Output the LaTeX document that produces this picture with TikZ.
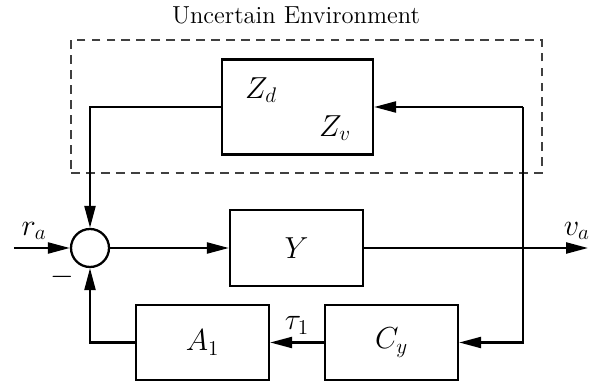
\documentclass[tikz,border=0pt]{standalone}
\usepackage{amsmath,amssymb}
\usepackage{tikz}
\usetikzlibrary{arrows.meta,positioning,calc}

\begin{document}
\begin{tikzpicture}[
  blk/.style={draw, rectangle, line width=1.3pt,
    minimum width=2.66cm, minimum height=1.52cm,
    text centered, font=\fontsize{18}{21}\selectfont},
  sumnode/.style={draw, circle, line width=1.3pt, minimum size=0.76cm, inner sep=0pt},
  lbl/.style={font=\fontsize{18}{21}\selectfont, inner sep=1pt},
  arr/.style={-{Triangle[length=4.4mm,width=2.2mm]}, line width=1.3pt}]
  \useasboundingbox (-1.8,-2.70) rectangle (10.22,4.96);
  % Uncertain environment
  \node[draw, dashed, dash pattern=on 5pt off 3.5pt, black!75, line width=0.6pt,
    minimum width=9.42cm, minimum height=2.66cm] (env) at (4.33,2.83) {};
  \node[font=\fontsize{14}{17}\selectfont] (envlbl) at (4.12,4.66) {Uncertain Environment};
  \node[blk, minimum width=3.02cm, minimum height=1.9cm] (zd) at (4.15,2.82) {};
  \node[lbl] (zdl) at (3.42,3.16) {$Z_d$};
  \node[lbl] (zvl) at (4.9,2.40) {$Z_v$};
  % Loop
  \node[sumnode] (sum) at (0,0) {};
  \node[lbl] (minus) at (-0.56,-0.58) {$-$};
  \node[blk] (y) at (4.13,0) {$Y$};
  \node[blk, minimum height=1.5cm] (a1) at (2.25,-1.89) {$A_1$};
  \node[blk, minimum height=1.5cm] (cy) at (6.03,-1.89) {$C_y$};
  \coordinate (in) at (-1.52,0);
  \coordinate (out) at (9.96,0);
  \coordinate (rtop) at (8.66,2.82);
  % Arrows
  \draw[arr] (in) -- node[lbl, above=3pt, pos=0.36]{$r_a$} (sum.west);
  \draw[arr] (sum.east) -- (y.west);
  \draw[arr] (y.east) -- node[lbl, above=3pt, pos=0.95]{$v_a$} (out);
  \draw[arr] (zd.west) -| (sum.north);
  \draw[arr] (rtop) -- (zd.east);
  \draw[arr] (rtop) |- (cy.east);
  \draw[arr] (cy.west) -- node[lbl, above=3pt]{$\tau_1$} (a1.east);
  \draw[arr] (a1.west) -| (sum.south);
\end{tikzpicture}
\end{document}
